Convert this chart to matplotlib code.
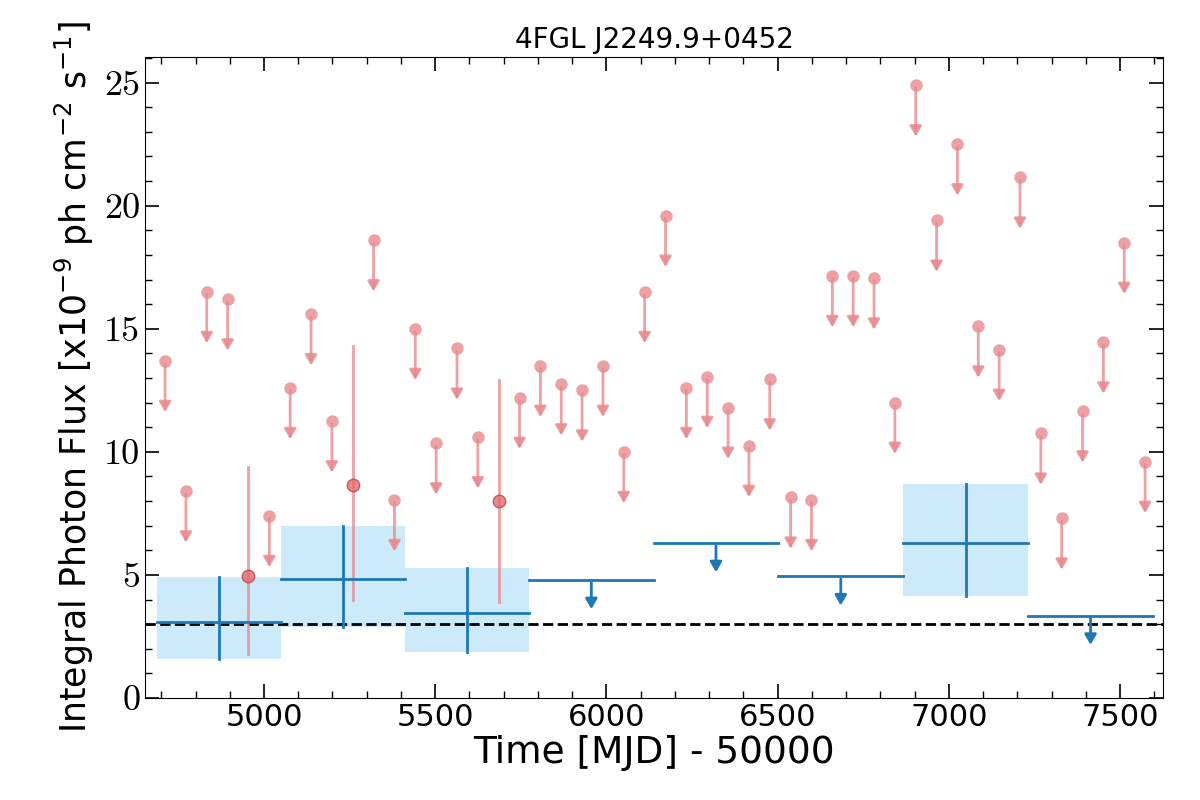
import numpy as np
import matplotlib
matplotlib.use("Agg")
import matplotlib.pyplot as plt
from matplotlib.ticker import MultipleLocator

# monthly (red) light curve, MJD-50000
t_m = [4711 + 60.9*i for i in range(48)]
flux_m = [13.7, 8.4, 16.5, 16.2, 4.95, 7.4, 12.6, 15.6, 11.25, 8.65, 18.6, 8.05,
          15.0, 10.35, 14.2, 10.6, 8.0, 12.2, 13.5, 12.75, 12.5, 13.5, 10.0, 16.5,
          19.6, 12.6, 13.05, 11.8, 10.25, 12.95, 8.15, 8.05, 17.15, 17.15, 17.05, 12.0,
          24.9, 19.4, 22.5, 15.1, 14.15, 21.15, 10.75, 7.3, 11.65, 14.45, 18.5, 9.6]
det_m = {4: (1.8, 9.4), 9: (4.0, 14.3), 16: (3.9, 12.9)}

# yearly (blue) bins
bin_edges = [4688, 5050, 5412, 5774, 6138, 6502, 6867, 7232, 7596]
flux_y = [3.1, 4.85, 3.45, 4.8, 6.3, 4.95, 6.3, 3.35]
err_lo_y = [1.6, 2.9, 1.85, None, None, None, 4.15, None]
err_hi_y = [4.9, 7.0, 5.3, None, None, None, 8.7, None]
mean_flux = 3.0

fig, ax = plt.subplots(figsize=(12, 8), dpi=100)
fig.subplots_adjust(left=0.121, right=0.969, top=0.929, bottom=0.1275)

red = '#e88a8e'
for i, (t, f) in enumerate(zip(t_m, flux_m)):
    if i in det_m:
        lo, hi = det_m[i]
        ax.plot([t, t], [lo, hi], color=red, alpha=0.8, lw=2, zorder=3)
        ax.plot(t, f, 'o', color='#e06b70', mec='#c04048', alpha=0.8, ms=9, zorder=4)
    else:
        ax.plot(t, f, 'o', color=red, alpha=0.8, ms=9, mec='none', zorder=4)
        ax.annotate('', xy=(t, f - 2.2), xytext=(t, f),
                    arrowprops=dict(arrowstyle='-|>,head_width=0.35,head_length=0.6',
                                    color=red, lw=2, alpha=0.8), zorder=3)

blue = '#1f77b4'
for j in range(8):
    x0, x1 = bin_edges[j], bin_edges[j+1]
    xc = 0.5*(x0+x1)
    f = flux_y[j]
    ax.plot([x0, x1], [f, f], color=blue, lw=2, zorder=5)
    if err_lo_y[j] is not None:
        ax.fill_between([x0, x1], err_lo_y[j], err_hi_y[j], color='#cdeafb', zorder=1, lw=0)
        ax.plot([xc, xc], [err_lo_y[j], err_hi_y[j]], color=blue, lw=2, zorder=5)
    else:
        ax.annotate('', xy=(xc, f - 1.3), xytext=(xc, f),
                    arrowprops=dict(arrowstyle='-|>,head_width=0.35,head_length=0.6',
                                    color=blue, lw=2), zorder=5)

ax.axhline(mean_flux, color='black', ls='--', lw=2, zorder=2)

ax.set_xlim(4653, 7625)
ax.set_ylim(0, 26.05)
ax.xaxis.set_major_locator(MultipleLocator(500))
ax.xaxis.set_minor_locator(MultipleLocator(100))
ax.yaxis.set_major_locator(MultipleLocator(5))
ax.yaxis.set_minor_locator(MultipleLocator(1))
ax.tick_params(which='both', direction='in', top=True, right=True)
ax.tick_params(which='major', length=10, width=1.2, labelsize=22)
ax.tick_params(which='minor', length=5, width=1)
for lab in ax.get_yticklabels():
    lab.set_family('cmr10'); lab.set_fontsize(26)

ax.set_xlabel('Time [MJD] - 50000', fontsize=27, labelpad=2)
ax.set_ylabel(r'Integral Photon Flux [x$10^{-9}$ ph cm$^{-2}$ s$^{-1}$]', fontsize=25, labelpad=6)
ax.set_title('4FGL J2249.9+0452', fontsize=20)

fig.savefig('out.png')
